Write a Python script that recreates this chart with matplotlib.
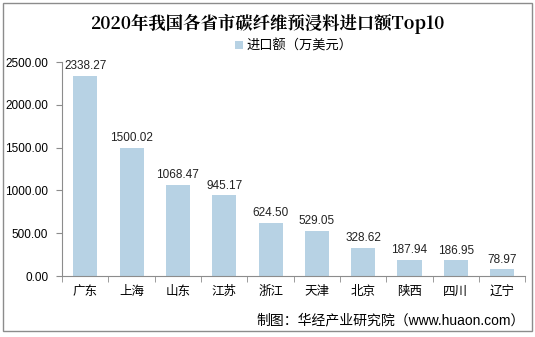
import matplotlib
matplotlib.use("Agg")
import matplotlib.pyplot as plt
from matplotlib.patches import Rectangle
import numpy as np

plt.rcParams['font.family'] = ['Liberation Sans', 'Noto Sans CJK SC', 'DejaVu Sans']

# data
provinces = ['广东', '上海', '山东', '江苏', '浙江', '天津', '北京', '陕西', '四川', '辽宁']
values = [2338.27, 1500.02, 1068.47, 945.17, 624.50, 529.05, 328.62, 187.94, 186.95, 78.97]
yticks = [0, 500, 1000, 1500, 2000, 2500]

BAR_COLOR = '#b7d2e4'
AXIS_COLOR = '#8c8c8c'

fig = plt.figure(figsize=(5.35, 3.37), dpi=100)
ax = fig.add_axes([0.116, 0.181, 0.866, 0.635])

x = np.arange(len(provinces))
ax.bar(x, values, width=0.52, color=BAR_COLOR, zorder=2, label='进口额（万美元）')

for xi, v in zip(x, values):
    ax.text(xi, v + 40, f'{v:.2f}', ha='center', va='bottom', fontsize=8.5, color='#222222')

ax.set_xlim(-0.5, len(provinces) - 0.5)
ax.set_ylim(0, 2500)
ax.set_yticks(yticks)
ax.set_yticklabels([f'{t:.2f}' for t in yticks], fontsize=8.5)
ax.set_xticks(x)
ax.set_xticklabels(provinces, fontsize=9)
ax.set_xticks(np.arange(-0.5, len(provinces)), minor=True)
ax.tick_params(axis='x', which='major', length=0, pad=7)
ax.tick_params(axis='x', which='minor', length=4, color=AXIS_COLOR, direction='out')
ax.tick_params(axis='y', length=4, color=AXIS_COLOR, pad=6)

for side in ['top', 'right']:
    ax.spines[side].set_visible(False)
for side in ['left', 'bottom']:
    ax.spines[side].set_color(AXIS_COLOR)
    ax.spines[side].set_linewidth(0.8)

# title, legend, source
fig.text(0.5, 0.93, '2020年我国各省市碳纤维预浸料进口额Top10', ha='center', va='center',
         fontsize=12.5, fontweight='bold', family=['Noto Serif CJK SC', 'Noto Sans CJK SC'])
ax.legend(loc='upper center', bbox_to_anchor=(0.5, 1.16), frameon=False, fontsize=9.5,
          handlelength=0.6, handleheight=0.6, handletextpad=0.3)
fig.text(0.98, 0.05, '制图：华经产业研究院（www.huaon.com）', ha='right', va='center', fontsize=10)

# outer frame
fig.patches.append(Rectangle((0.006, 0.018), 0.988, 0.973, transform=fig.transFigure,
                             fill=False, edgecolor='#8c8c8c', linewidth=1))

fig.savefig('out.png', dpi=100)
